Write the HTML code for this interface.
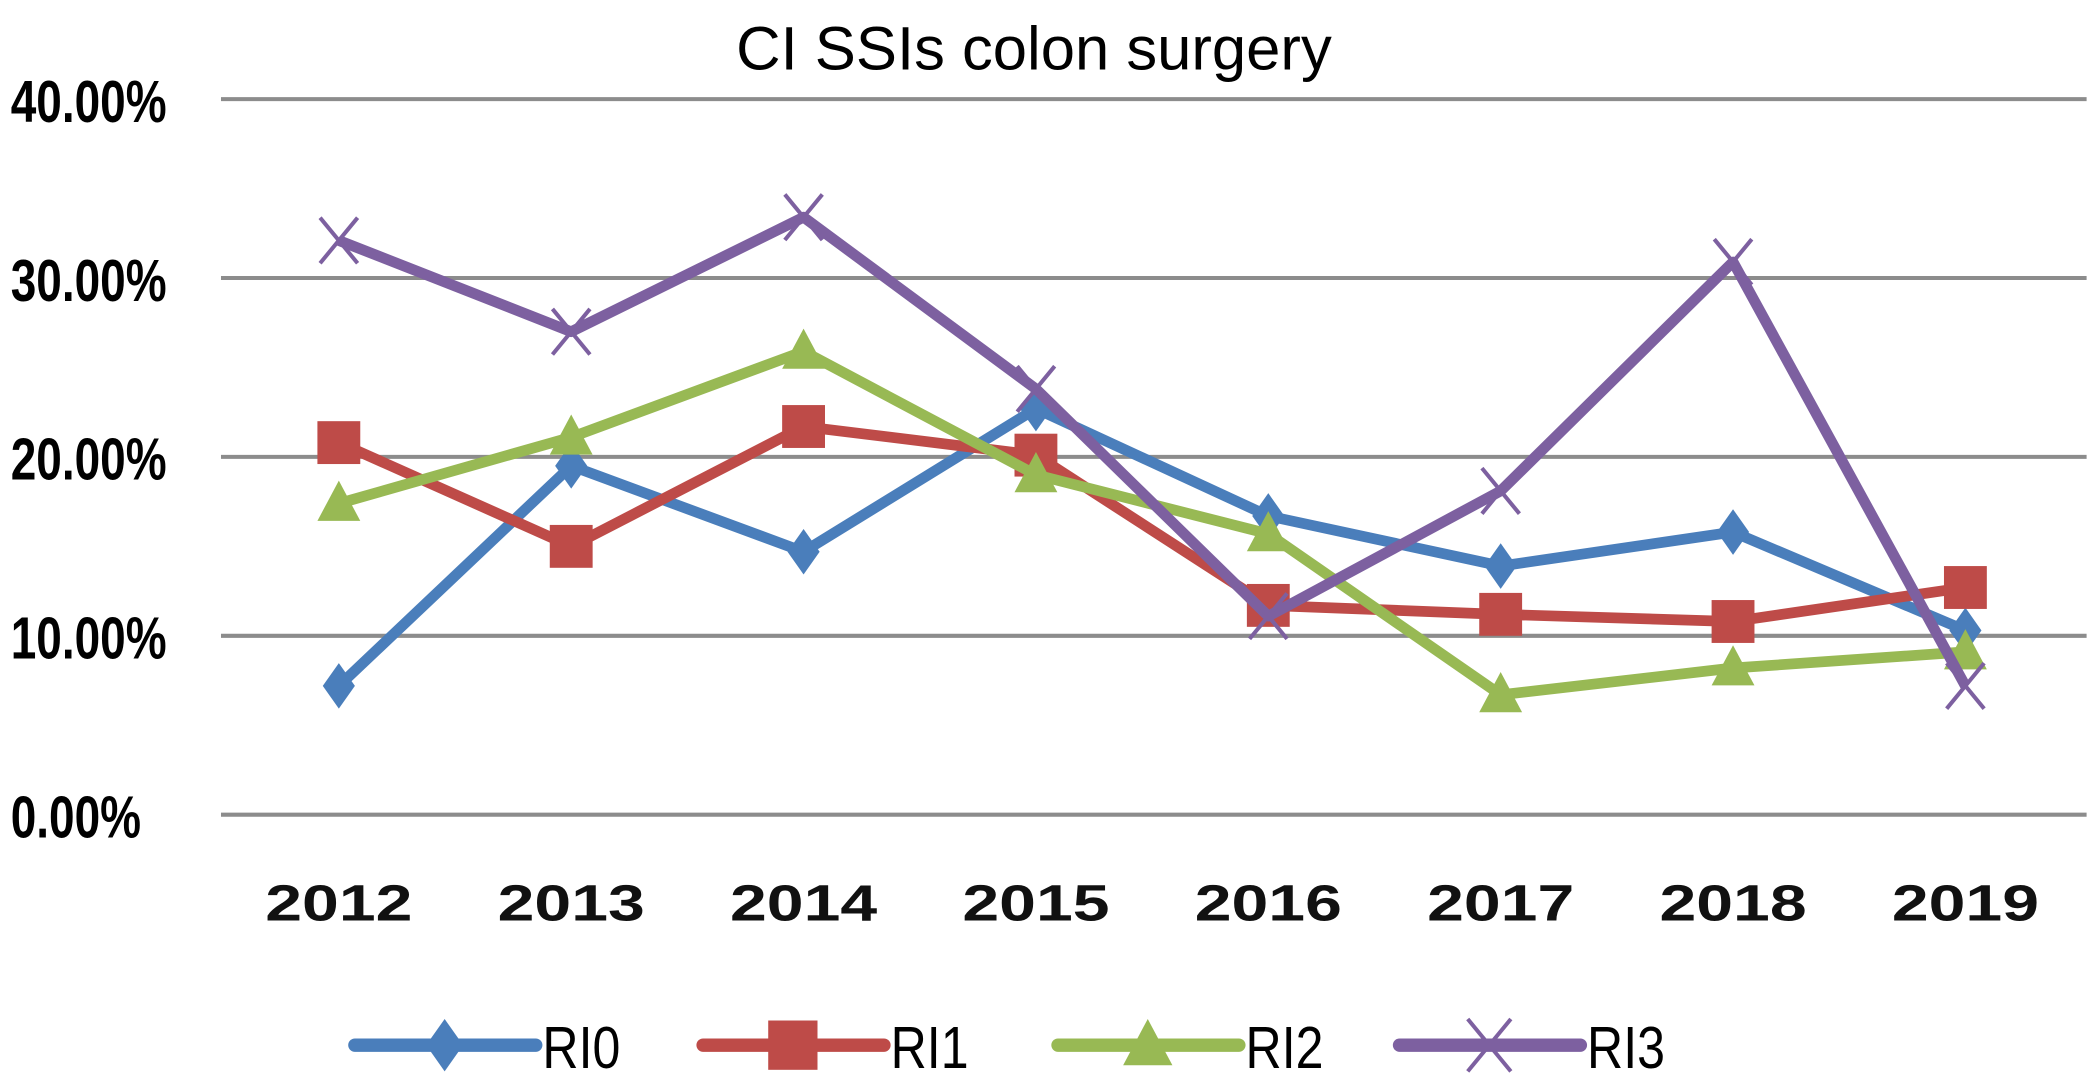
<!DOCTYPE html>
<html><head><meta charset="utf-8"><style>
html,body{margin:0;padding:0;background:#fff;}
svg{display:block;}
text{font-family:"Liberation Sans",sans-serif;}
</style></head><body>
<svg id="chart" width="2100" height="1080" viewBox="0 0 1568 806" preserveAspectRatio="none" xmlns="http://www.w3.org/2000/svg">
<text x="772" y="52" font-size="46" text-anchor="middle" fill="#000">CI SSIs colon surgery</text>
<g id="grid"></g>
<g id="series"></g>
<g id="legend"></g>
</svg>
<script>
const categories = ["2012","2013","2014","2015","2016","2017","2018","2019"];
const yTicks = [0,10,20,30,40];
const yTickLabels = ["0.00%","10.00%","20.00%","30.00%","40.00%"];
const ri0 = [7.2,19.5,14.7,22.7,16.7,13.9,15.8,10.3];
const ri1 = [20.8,15.0,21.7,20.1,11.7,11.2,10.8,12.7];
const ri2 = [17.4,21.1,25.9,19.0,15.7,6.7,8.2,9.1];
const ri3 = [32.1,27.0,33.4,23.8,11.1,18.1,30.9,7.2];
const seriesNames = ["RI0","RI1","RI2","RI3"];

const NS="http://www.w3.org/2000/svg";
const x0=253, dx=173.5, yBase=608, yPer=13.35;
const X=i=>x0+i*dx, Y=v=>yBase-v*yPer;
function mk(tag,attrs,parent){const e=document.createElementNS(NS,tag);for(const k in attrs)e.setAttribute(k,attrs[k]);parent.appendChild(e);return e;}
const grid=document.getElementById('grid');
yTicks.forEach((t,i)=>{
  const l=mk('line',{x1:165,x2:1558,y1:Y(t),y2:Y(t),stroke:'#8c8c8c','stroke-width':3},grid);
  
  
  const tx=mk('text',{x:0,y:0,'font-size':44,'font-weight':'bold',fill:'#000',transform:`translate(8,${Y(t)+17}) scale(0.78,1)`},grid);
  tx.textContent=yTickLabels[i];
  
  
});
categories.forEach((c,i)=>{
  const tx=mk('text',{x:0,y:0,'font-size':38,'font-weight':'bold','text-anchor':'middle',fill:'#111',transform:`translate(${X(i)+28},687) scale(1.3,1)`},grid);
  tx.setAttribute('transform',`translate(${X(i)},687) scale(1.3,1)`);
  tx.textContent=c;
  
  
});
const colors=["#4a7ebb","#be4b48","#98b954","#7d60a0"];
const data=[ri0,ri1,ri2,ri3];
function marker(type,cx,cy,col,g,s){
  s=s||1;
  if(type===0) return mk('polygon',{points:`${cx},${cy-17*s} ${cx+12*s},${cy} ${cx},${cy+17*s} ${cx-12*s},${cy}`,fill:col},g);
  if(type===1) return mk('rect',{x:cx-16*s,y:cy-16*s,width:32*s,height:32*s,fill:col},g);
  if(type===2) return mk('polygon',{points:`${cx},${cy-17*s} ${cx+16*s},${cy+13*s} ${cx-16*s},${cy+13*s}`,fill:col},g);
  const p=mk('path',{d:`M${cx-14*s},${cy-17*s}L${cx+14*s},${cy+17*s}M${cx+14*s},${cy-17*s}L${cx-14*s},${cy+17*s}`,stroke:col,'stroke-width':3,fill:'none'},g);
  return p;
}
const sg=document.getElementById('series');
data.forEach((arr,k)=>{
  const g=mk('g',{},sg);
  
  
  const pl=mk('polyline',{points:arr.map((v,i)=>X(i)+','+Y(v)).join(' '),fill:'none',stroke:colors[k],'stroke-width':8,'stroke-linejoin':'round'},g);
  
  
  arr.forEach((v,i)=>{
    const m=marker(k,X(i),Y(v),colors[k],g);
    
    
  });
});
const lg=document.getElementById('legend');
const lx=[265,525,790,1045];
seriesNames.forEach((n,k)=>{
  const g=mk('g',{},lg);
  
  
  mk('line',{x1:lx[k],x2:lx[k]+135,y1:780,y2:780,stroke:colors[k],'stroke-width':10,'stroke-linecap':'round'},g);
  marker(k,lx[k]+67,780,colors[k],g,1.15);
  const t=mk('text',{x:0,y:0,'font-size':44,fill:'#000',transform:`translate(${lx[k]+140},${797}) scale(0.85,1)`},g);
  t.textContent=n;
});
</script>
</body></html>
